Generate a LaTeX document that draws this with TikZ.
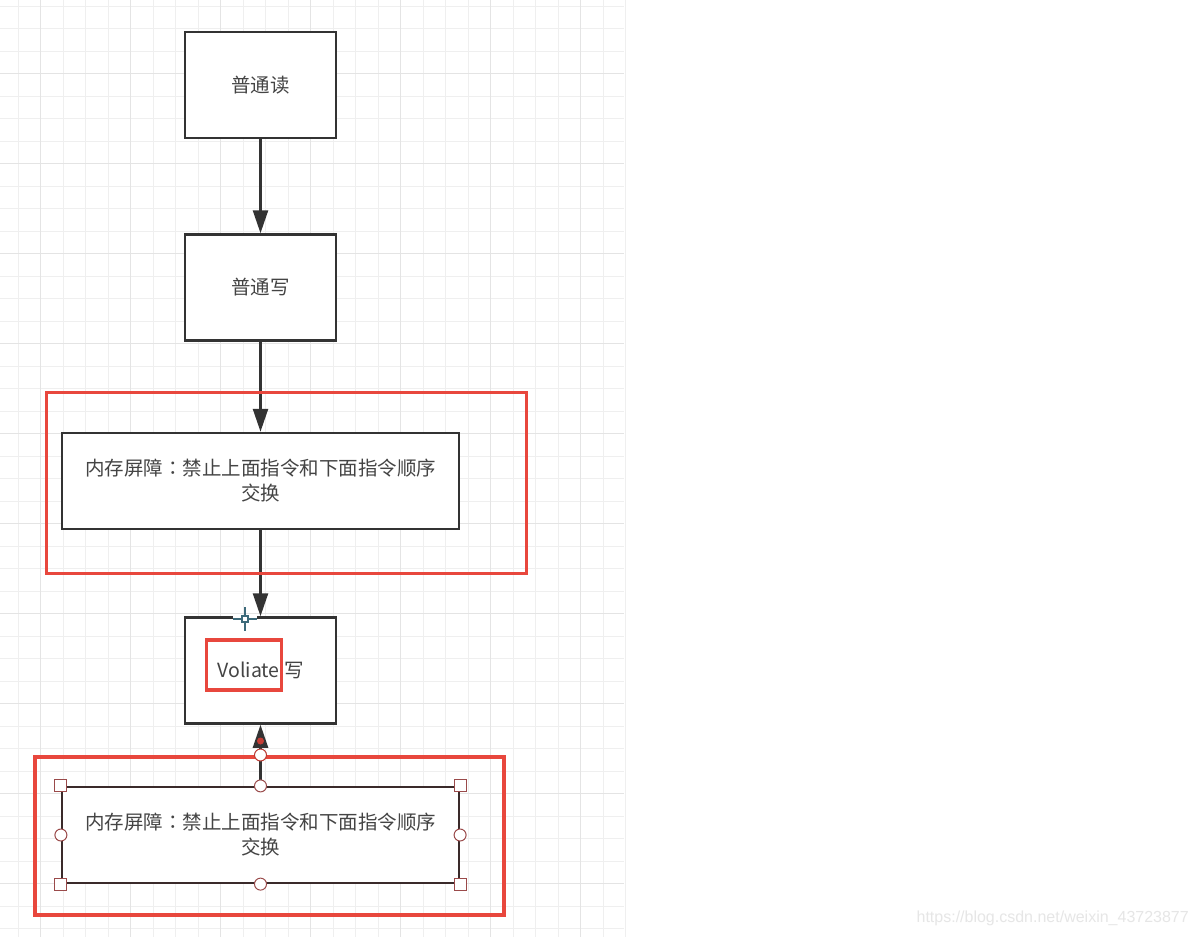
\documentclass[tikz,border=0pt]{standalone}
\usepackage{fontspec}
\setmainfont{Noto Sans CJK SC}
\newfontfamily\tcfont{Noto Sans CJK TC}
\newfontfamily\wmfont{Liberation Sans}
\usetikzlibrary{arrows.meta}
\definecolor{gridminor}{HTML}{EFEFEF}
\definecolor{gridmajor}{HTML}{E4E4E4}
\definecolor{boxline}{HTML}{333333}
\definecolor{txt}{HTML}{444444}
\definecolor{hlred}{HTML}{E8473D}
\definecolor{selline}{HTML}{3A2A2A}
\definecolor{handle}{HTML}{9A4A4A}
\definecolor{cross}{HTML}{3D6A7A}
\definecolor{wm}{HTML}{E6E6E6}
\newcommand{\mycolon}{{\tcfont ：}}
\tikzset{
  minorline/.style={draw=gridminor, line width=1pt},
  majorline/.style={draw=gridmajor, line width=1.3pt},
  flowbox/.style={draw=boxline, line width=2.5pt, fill=white, text=txt,
    font=\fontsize{19.5}{25}\selectfont, align=center, inner sep=0pt},
  selbox/.style={flowbox, draw=selline, line width=2.2pt},
  redbox/.style={draw=hlred, line width=3.5pt, inner sep=0pt},
  arr/.style={draw=boxline, line width=2.5pt, -{Triangle[length=23pt,width=15pt]}},
  sqhandle/.style={draw=handle, fill=white, line width=1pt, minimum size=12pt, inner sep=0pt},
  cirhandle/.style={circle, draw=handle, fill=white, line width=1pt, minimum size=12pt, inner sep=0pt},
}
\begin{document}
\begin{tikzpicture}[x=1pt,y=-1pt]
\useasboundingbox (0,0) rectangle (1199,937);
\fill[white] (0,0) rectangle (1199,937);
% grid
\foreach \k in {0,...,27} \draw[minorline] ({18.3+22.5*\k},0) -- ({18.3+22.5*\k},937);
\foreach \k in {0,...,41} \draw[minorline] (0,{6+22.5*\k}) -- (624,{6+22.5*\k});
\foreach \k in {0,...,6} \draw[majorline] ({40.8+90*\k},0) -- ({40.8+90*\k},937);
\foreach \k in {0,...,9} \draw[majorline] (0,{73.5+90*\k}) -- (624,{73.5+90*\k});
% boxes
\node[flowbox, minimum width=151pt, minimum height=106pt] (b1) at (260.5,85) {普通读};
\node[flowbox, minimum width=151pt, minimum height=106pt] (b2) at (260.5,287.5) {普通写};
\node[flowbox, minimum width=397pt, minimum height=96pt] (b3) at (260.5,481) {内存屏障\mycolon 禁止上面指令和下面指令顺序\\交换};
\node[flowbox, minimum width=151pt, minimum height=106pt] (b4) at (260.5,670.5) {Voliate 写};
\node[selbox, minimum width=397pt, minimum height=96pt] (b5) at (260.5,835) {内存屏障\mycolon 禁止上面指令和下面指令顺序\\交换};
% connectors
\draw[arr] (b1) -- (b2);
\draw[arr] (b2) -- (b3);
\draw[arr] (b3) -- (b4);
\draw[arr] (b5) -- (b4);
% gap in top border of b4 and crosshair
\draw[white, line width=3pt] (233,617.5) -- (257,617.5);
\coordinate (cc) at (245,619);
\draw[cross, line width=1.2pt] (233,619) -- (257,619) (245,607) -- (245,631);
\node[draw=cross, fill=white, line width=1.2pt, minimum size=6pt, inner sep=0pt] (cq) at (cc) {};
% selection handles
\node[sqhandle] (h1) at (b5.north west) {};
\node[sqhandle] (h2) at (b5.north east) {};
\node[sqhandle] (h3) at (b5.south west) {};
\node[sqhandle] (h4) at (b5.south east) {};
\node[cirhandle] (h5) at (b5.north) {};
\node[cirhandle] (h6) at (b5.south) {};
\node[cirhandle] (h7) at (b5.west) {};
\node[cirhandle] (h8) at (b5.east) {};
\node[circle, fill=hlred!85!black, minimum size=7pt, inner sep=0pt] (rd) at (260.5,741) {};
% red highlight boxes
\node[redbox, minimum width=480pt, minimum height=180.6pt] (r1) at (286.7,483) {};
\node[redbox, minimum width=469pt, minimum height=158pt] (r2) at (269.5,836) {};
\node[cirhandle, draw=hlred!80!black] (h9) at (260.5,755) {};
\node[redbox, minimum width=75pt, minimum height=50pt] (r3) at (244.2,665) {};
% watermark
\node[text=wm, font=\wmfont\fontsize{16}{18}\selectfont, anchor=east, inner sep=0pt] (wmk) at (1189,918) {https://blog.csdn.net/weixin\_43723877};
\end{tikzpicture}
\end{document}
